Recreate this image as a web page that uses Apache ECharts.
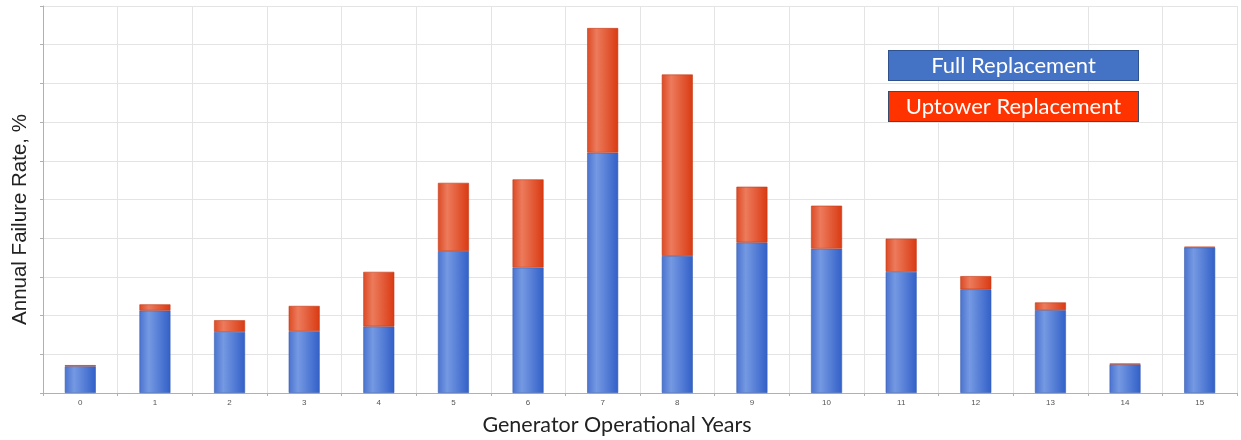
<!DOCTYPE html>
<html>
<head>
<meta charset="utf-8">
<script src="https://cdn.jsdelivr.net/npm/echarts@6/dist/echarts.min.js"></script>
<style>
  html, body { margin: 0; padding: 0; background: #fff; }
  #chart { width: 1241px; height: 440px; }
</style>
</head>
<body>
<div id="chart"></div>
<script>
// categories = operational year
const years = ['0', '1', '2', '3', '4', '5', '6', '7', '8', '9', '10', '11', '12', '13', '14', '15']
// values (no y labels, so units are gridline steps)
const fullReplacement = [0.69, 2.13, 1.58, 1.60, 1.72, 3.67, 3.24, 6.21, 3.54, 3.89, 3.73, 3.13, 2.68, 2.14, 0.74, 3.76]
const uptowerReplacement = [0.03, 0.16, 0.30, 0.65, 1.41, 1.76, 2.28, 3.22, 4.69, 1.44, 1.11, 0.86, 0.34, 0.20, 0.02, 0.02]
const yTicks = [0, 10, 1]

const chart = echarts.init(document.getElementById('chart'))

function grad(c0, c1, c2) {
  return new echarts.graphic.LinearGradient(0, 0, 1, 0, [
    { offset: 0, color: c0 },
    { offset: 0.3, color: c1 },
    { offset: 1, color: c2 }
  ])
}

chart.setOption({
  animation: false,
  grid: {
    left: 43,
    right: 4,
    top: 6,
    bottom: 47,
    containLabel: false,
    outerBoundsMode: 'none'
  },
  legend: {
    orient: 'vertical',
    left: 879,
    top: 45,
    itemGap: 10,
    icon: 'none',
    itemWidth: 0,
    itemHeight: 0,
    selectedMode: false,
    data: ['Full Replacement', 'Uptower Replacement'],
    formatter: function (name) {
      return name === 'Full Replacement' ? '{b|' + name + '}' : '{r|' + name + '}'
    },
    textStyle: {
      rich: {
        b: {
          width: 249, height: 29, lineHeight: 29, align: 'center',
          backgroundColor: '#4472c4', borderColor: '#2f528f', borderWidth: 1,
          color: '#fff', fontSize: 22, fontFamily: 'Lato'
        },
        r: {
          width: 249, height: 29, lineHeight: 29, align: 'center',
          backgroundColor: '#ff3300', borderColor: '#3b4a6b', borderWidth: 1,
          color: '#fff', fontSize: 22, fontFamily: 'Lato'
        }
      }
    }
  },
  xAxis: {
    type: 'category',
    data: years,
    name: 'Generator Operational Years',
    nameLocation: 'middle',
    nameGap: 21,
    nameTextStyle: { fontSize: 21.5, color: '#222', fontFamily: 'Lato', padding: [0, 46, 0, 0] },
    axisLine: { lineStyle: { color: '#b0b0b0' } },
    axisTick: { show: true, length: 3, lineStyle: { color: '#b0b0b0' } },
    axisLabel: { fontSize: 8, color: '#555', margin: 6 },
    splitLine: { show: true, lineStyle: { color: '#e4e4e4' } }
  },
  yAxis: {
    type: 'value',
    min: yTicks[0],
    max: yTicks[1],
    interval: yTicks[2],
    name: 'Annual Failure Rate, %',
    nameLocation: 'middle',
    nameGap: 12,
    nameTextStyle: { fontSize: 20.5, color: '#222', fontFamily: 'Liberation Sans', padding: [0, 40, 0, 0] },
    axisLine: { show: true, lineStyle: { color: '#b0b0b0' } },
    axisTick: { show: true, length: 3, lineStyle: { color: '#b0b0b0' } },
    axisLabel: { show: false },
    splitLine: { lineStyle: { color: '#e4e4e4' } }
  },
  series: [
    {
      name: 'Full Replacement',
      type: 'bar',
      stack: 'total',
      barWidth: 31,
      data: fullReplacement,
      itemStyle: {
        color: grad('#4a73cf', '#7599e2', '#3260c8'),
        borderColor: '#3a5fb0',
        borderWidth: 0.6
      }
    },
    {
      name: 'Uptower Replacement',
      type: 'bar',
      stack: 'total',
      barWidth: 31,
      data: uptowerReplacement,
      itemStyle: {
        color: grad('#dc4a25', '#ec7b5c', '#d93a12'),
        borderColor: '#c43a18',
        borderWidth: 0.6
      }
    }
  ]
})
</script>
</body>
</html>
